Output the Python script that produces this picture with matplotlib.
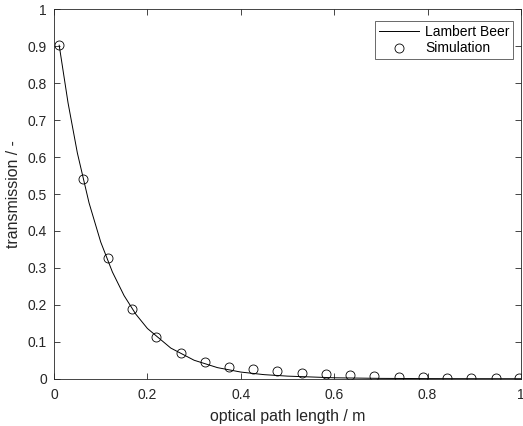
import numpy as np
import matplotlib
matplotlib.use('Agg')
import matplotlib.pyplot as plt

# Lambert Beer curve
lbX = [0.011, 0.03, 0.05, 0.075, 0.1, 0.125, 0.15, 0.175, 0.2, 0.25, 0.3,
       0.35, 0.4, 0.45, 0.5, 0.6, 0.7, 0.8, 0.9, 1.0]
lbY = [0.903, 0.747, 0.611, 0.476, 0.370, 0.289, 0.225, 0.175, 0.136, 0.083,
       0.050, 0.030, 0.018, 0.011, 0.007, 0.0025, 0.0009, 0.0003, 0.0001, 0.0]

# Simulation points
simX = [0.011, 0.063, 0.115, 0.167, 0.219, 0.271, 0.323, 0.375, 0.426, 0.478,
        0.531, 0.582, 0.634, 0.685, 0.739, 0.790, 0.842, 0.893, 0.946, 0.995]
simY = [0.903, 0.541, 0.328, 0.190, 0.113, 0.069, 0.044, 0.032, 0.026, 0.021,
        0.016, 0.012, 0.009, 0.006, 0.005, 0.004, 0.003, 0.002, 0.002, 0.001]

xTicks = [0, 0.2, 0.4, 0.6, 0.8, 1]
xTickLabels = ['0', '0.2', '0.4', '0.6', '0.8', '1']
yTicks = [0, 0.1, 0.2, 0.3, 0.4, 0.5, 0.6, 0.7, 0.8, 0.9, 1]
yTickLabels = ['0', '0.1', '0.2', '0.3', '0.4', '0.5', '0.6', '0.7', '0.8', '0.9', '1']

plt.rcParams['font.family'] = ['Liberation Sans', 'DejaVu Sans']
plt.rcParams['font.size'] = 10
axCol = '#262626'

fig = plt.figure(figsize=(5.23, 4.26), dpi=100)
ax = fig.add_axes([0.1033, 0.111, 0.8929, 0.867])

ax.plot(lbX, lbY, color='black', lw=0.7, label='Lambert Beer')
ax.plot(simX, simY, linestyle='none', marker='o', markersize=6.5,
        markerfacecolor='none', markeredgecolor='black', markeredgewidth=0.6,
        label='Simulation')

ax.set_xlim(0, 1)
ax.set_ylim(0, 1)
ax.set_xticks(xTicks)
ax.set_xticklabels(xTickLabels)
ax.set_yticks(yTicks)
ax.set_yticklabels(yTickLabels)
ax.tick_params(direction='in', length=4, width=0.6, top=True, right=True,
               colors=axCol, labelsize=10)
ax.tick_params(axis='x', pad=7)
ax.tick_params(axis='y', pad=5)
for s in ax.spines.values():
    s.set_color(axCol)
    s.set_linewidth(0.6)

ax.set_xlabel('optical path length / m', fontsize=11.4, color=axCol, labelpad=5)
ax.set_ylabel('transmission / -', fontsize=11.4, color=axCol, labelpad=5)

leg = ax.legend(loc='upper right', bbox_to_anchor=(0.983, 0.968),
                borderaxespad=0, fancybox=False, edgecolor=axCol,
                handlelength=2.9, handletextpad=0.45, fontsize=10,
                borderpad=0.25, labelspacing=0.2)
leg.get_frame().set_linewidth(0.6)
for t in leg.get_texts():
    t.set_color('black')

fig.savefig('out.png', dpi=100)
